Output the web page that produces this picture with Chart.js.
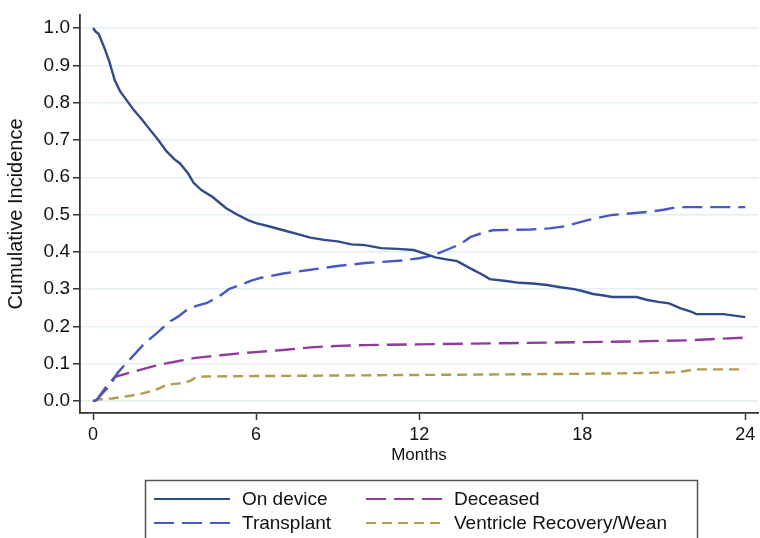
<!DOCTYPE html>
<html><head><meta charset="utf-8">
<script src="https://cdn.jsdelivr.net/npm/chart.js@4.4.1/dist/chart.umd.min.js"></script>
<style>html,body{margin:0;padding:0;background:#fff}#wrap{width:760px;height:538px;position:relative}</style>
</head><body><div id="wrap"><canvas id="c" width="760" height="538"></canvas></div>
<script>
const xTickValues = [0, 6, 12, 18, 24];
const yTickValues = [0, 0.1, 0.2, 0.3, 0.4, 0.5, 0.6, 0.7, 0.8, 0.9, 1.0];

const onDeviceMonths = [0,0.1,0.2,0.4,0.6,0.8,1.0,1.3,1.5,1.8,2.1,2.4,2.7,3.0,3.2,3.5,3.7,4.0,4.4,4.9,5.3,5.7,6.0,6.5,7,7.5,8,8.5,9,9.5,10,10.6,11.2,11.8,12.2,12.6,13.0,13.4,13.9,14.3,14.6,15.2,15.7,16.2,16.7,17.2,17.7,18.0,18.4,18.8,19.1,19.6,20.0,20.4,20.8,21.2,21.6,22.0,22.2,22.7,23.2,23.6,24.0];
const onDeviceValues = [1.0,0.99,0.985,0.95,0.91,0.86,0.83,0.80,0.78,0.755,0.727,0.70,0.67,0.648,0.637,0.61,0.585,0.565,0.547,0.517,0.50,0.485,0.477,0.468,0.458,0.448,0.438,0.432,0.428,0.42,0.418,0.41,0.408,0.405,0.395,0.385,0.38,0.375,0.355,0.34,0.327,0.322,0.317,0.315,0.311,0.305,0.30,0.295,0.287,0.283,0.279,0.279,0.279,0.271,0.266,0.262,0.249,0.24,0.233,0.233,0.233,0.229,0.225];

const transplantMonths = [0,0.13,0.4,0.6,0.9,1.2,1.5,1.9,2.35,2.8,3.1,3.45,3.8,4.2,4.7,5.0,5.4,5.8,6.15,7,8,9,10,10.6,11.4,12.0,12.5,13.0,13.5,13.9,14.3,14.7,15.4,16.1,16.8,17.4,18.2,19.1,20.4,21.0,21.5,22.5,24.0];
const transplantValues = [0,0.003,0.025,0.04,0.075,0.1,0.123,0.155,0.182,0.212,0.225,0.244,0.255,0.263,0.284,0.3,0.311,0.322,0.33,0.342,0.352,0.362,0.37,0.373,0.377,0.383,0.39,0.405,0.42,0.44,0.45,0.458,0.459,0.46,0.463,0.469,0.485,0.499,0.507,0.513,0.52,0.52,0.52];

const deceasedMonths = [0,0.13,0.5,0.8,1.2,1.7,2.2,2.7,3.2,3.7,4.2,4.7,5.4,6.1,7,8,9,10,12,14,16,18,20,22,23,24];
const deceasedValues = [0,0.003,0.04,0.065,0.073,0.083,0.093,0.101,0.108,0.115,0.119,0.123,0.128,0.132,0.137,0.144,0.148,0.15,0.152,0.154,0.156,0.158,0.16,0.163,0.167,0.17];

const recoveryMonths = [0,0.25,0.7,1.1,1.6,2.0,2.4,2.7,3.0,3.3,3.6,3.8,4.2,6,8,10,12,14,16,18,20,21.5,21.9,22.2,24];
const recoveryValues = [0,0.005,0.007,0.011,0.017,0.024,0.033,0.043,0.046,0.048,0.055,0.065,0.066,0.067,0.068,0.069,0.07,0.071,0.072,0.073,0.075,0.077,0.082,0.085,0.085];

const seriesLabels = ['On device', 'Transplant', 'Deceased', 'Ventricle Recovery/Wean'];

const FONT = '"Liberation Sans", Arial, sans-serif';
const AXIS = '#333333';

function pts(xs, ys){ return xs.map((x,i)=>({x:x, y:ys[i]})); }

const styles = [
  {color:'#304b88', dash:[]},
  {color:'#4858c2', dash:[20,8]},
  {color:'#8e3b9b', dash:[20,8]},
  {color:'#b29a4e', dash:[10,6]}
];
const allData = [
  pts(onDeviceMonths, onDeviceValues),
  pts(transplantMonths, transplantValues),
  pts(deceasedMonths, deceasedValues),
  pts(recoveryMonths, recoveryValues)
];

const legendPlugin = {
  id:'customLegend',
  afterDraw(chart){
    const ctx = chart.ctx;
    ctx.save();
    ctx.strokeStyle = '#555';
    ctx.lineWidth = 1.5;
    ctx.strokeRect(145.5, 480.5, 552, 70);
    const pos = [
      {x:154, y:499}, {x:154, y:523}, {x:366, y:499}, {x:366, y:523}
    ];
    ctx.font = '19px ' + FONT;
    ctx.textBaseline = 'middle';
    ctx.fillStyle = '#111';
    chart.data.datasets.forEach((ds,i)=>{
      const p = pos[i];
      ctx.beginPath();
      ctx.setLineDash(ds.borderDash || []);
      ctx.strokeStyle = ds.borderColor;
      ctx.lineWidth = 2;
      ctx.moveTo(p.x, p.y);
      ctx.lineTo(p.x + 76, p.y);
      ctx.stroke();
      ctx.setLineDash([]);
      ctx.fillText(ds.label, p.x + 88, p.y + 1);
    });
    ctx.restore();
  }
};

new Chart(document.getElementById('c'), {
  type:'line',
  data:{
    datasets: seriesLabels.map((lab,i)=>({
      label: lab,
      data: allData[i],
      borderColor: styles[i].color,
      borderDash: styles[i].dash,
      borderWidth: 2.4,
      pointRadius: 0,
      tension: 0,
      fill: false
    }))
  },
  options:{
    responsive:false,
    animation:false,
    devicePixelRatio:1,
    layout:{padding:{left:0, top:15, right:2, bottom:70}},
    plugins:{legend:{display:false}, tooltip:{enabled:false}},
    scales:{
      x:{
        type:'linear', min:-0.48, max:24.47,
        afterBuildTicks(s){ s.ticks = xTickValues.map(v=>({value:v})); },
        afterFit(s){ s.height = 55; },
        ticks:{font:{family:FONT, size:18}, color:'#111', padding:4, maxRotation:0,
               callback:(v)=>String(v)},
        grid:{drawOnChartArea:false, drawTicks:true, tickLength:7, tickColor:AXIS, tickWidth:1.5},
        border:{display:true, color:AXIS, width:1.8},
        title:{display:true, text:'Months', font:{family:FONT, size:17}, color:'#111', padding:{top:0,bottom:2}}
      },
      y:{
        type:'linear', min:-0.032, max:1.035,
        afterBuildTicks(s){ s.ticks = yTickValues.map(v=>({value:v})); },
        afterFit(s){ s.width = 80; },
        ticks:{font:{family:FONT, size:19}, color:'#111', padding:3,
               callback:(v)=>Number(v).toFixed(1)},
        grid:{drawOnChartArea:true, color:'#e3eef4', lineWidth:1.5, drawTicks:true, tickLength:7, tickColor:AXIS, tickWidth:1.5},
        border:{display:true, color:AXIS, width:1.8},
        title:{display:true, text:'Cumulative Incidence', font:{family:FONT, size:20}, color:'#111', padding:{top:4,bottom:0}}
      }
    }
  },
  plugins:[legendPlugin]
});
</script></body></html>
